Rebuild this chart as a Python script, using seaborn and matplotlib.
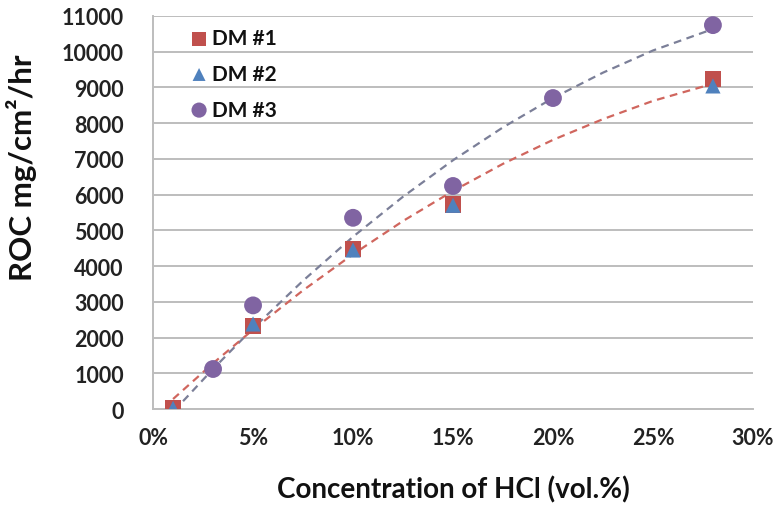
import numpy as np
import pandas as pd
import matplotlib
matplotlib.use("Agg")
import matplotlib.pyplot as plt
import seaborn as sns
from matplotlib.ticker import FuncFormatter, MultipleLocator

# ---- data (HCl concentration in %, ROC in mg/cm2/hr) ----
dm1_x = [1, 5, 10, 15, 28]
dm1_y = [30, 2330, 4470, 5720, 9240]
dm2_x = [1, 5, 10, 15, 28]
dm2_y = [20, 2380, 4450, 5700, 9040]
dm3_x = [3, 5, 10, 15, 20, 28]
dm3_y = [1120, 2900, 5350, 6240, 8700, 10740]

# dashed trend lines
trend1_x = [1, 3, 5, 7.5, 10, 12.5, 15, 17.5, 20, 22.5, 25, 28]
trend1_y = [280, 1280, 2220, 3320, 4330, 5260, 6100, 6860, 7530, 8110, 8620, 9100]
trend3_x = [1.5, 3, 5, 7.5, 10, 12.5, 15, 17.5, 20, 22.5, 25, 28]
trend3_y = [220, 1120, 2260, 3590, 4820, 5940, 6960, 7880, 8700, 9410, 10030, 10630]

series_names = ["DM #1", "DM #2", "DM #3"]
x_label = "Concentration of HCl (vol.%)"
y_label = "ROC mg/cm\u00b2/hr"

sns.set_style("white")
plt.rcParams["font.family"] = ["Lato", "DejaVu Sans"]

fig = plt.figure(figsize=(7.77, 5.10), dpi=100)
ax = fig.add_axes([0.197, 0.196, 0.772, 0.771])

grid_c = "#bdbdbd"
ax.set_xlim(0, 30)
ax.set_ylim(0, 11000)
ax.yaxis.set_major_locator(MultipleLocator(1000))
ax.xaxis.set_major_locator(MultipleLocator(5))
ax.grid(axis="y", color=grid_c, linewidth=1.4)
ax.grid(axis="x", visible=False)
ax.set_axisbelow(True)
for s in ["top", "right"]:
    ax.spines[s].set_visible(False)
for s in ["left", "bottom"]:
    ax.spines[s].set_color(grid_c)
    ax.spines[s].set_linewidth(1.4)

trend_df1 = pd.DataFrame({"x": trend1_x, "y": trend1_y})
trend_df3 = pd.DataFrame({"x": trend3_x, "y": trend3_y})
sns.lineplot(data=trend_df3, x="x", y="y", ax=ax, color="#7b7f98",
             linestyle=(0, (3.5, 2.5)), linewidth=1.6, legend=False, zorder=2)
sns.lineplot(data=trend_df1, x="x", y="y", ax=ax, color="#d0665e",
             linestyle=(0, (3.5, 2.5)), linewidth=1.6, legend=False, zorder=2)

df1 = pd.DataFrame({"x": dm1_x, "y": dm1_y})
df2 = pd.DataFrame({"x": dm2_x, "y": dm2_y})
df3 = pd.DataFrame({"x": dm3_x, "y": dm3_y})
sns.scatterplot(data=df1, x="x", y="y", ax=ax, marker="s", s=140,
                color="#c0504d", edgecolor="none", label=series_names[0], zorder=3)
sns.scatterplot(data=df2, x="x", y="y", ax=ax, marker="^", s=120,
                color="#4f81bd", edgecolor="none", label=series_names[1], zorder=4)
sns.scatterplot(data=df3, x="x", y="y", ax=ax, marker="o", s=165,
                color="#8064a2", edgecolor="none", label=series_names[2], zorder=5)

ax.xaxis.set_major_formatter(FuncFormatter(lambda v, p: f"{int(round(v))}%"))
ax.tick_params(axis="both", length=0, labelsize=15.5)
ax.tick_params(axis="x", pad=13)
ax.tick_params(axis="y", pad=21)
for lab in ax.get_xticklabels() + ax.get_yticklabels():
    lab.set_fontweight("bold")
    lab.set_color("#222222")

ax.set_xlabel(x_label, fontsize=20, fontweight="bold", color="#111111")
ax.xaxis.set_label_coords(0.5, -0.168)
ax.set_ylabel(y_label, fontsize=22.5, fontweight="bold", color="#111111")
ax.yaxis.set_label_coords(-0.193, 0.615)

leg = ax.legend(loc="upper left", bbox_to_anchor=(0.035, 1.0), frameon=False,
                fontsize=15, handletextpad=0.0, labelspacing=0.75,
                borderaxespad=0.2, handlelength=1.2, markerscale=0.85)
for t in leg.get_texts():
    t.set_fontweight("bold")
    t.set_color("#111111")

fig.savefig("out.png", dpi=100)
